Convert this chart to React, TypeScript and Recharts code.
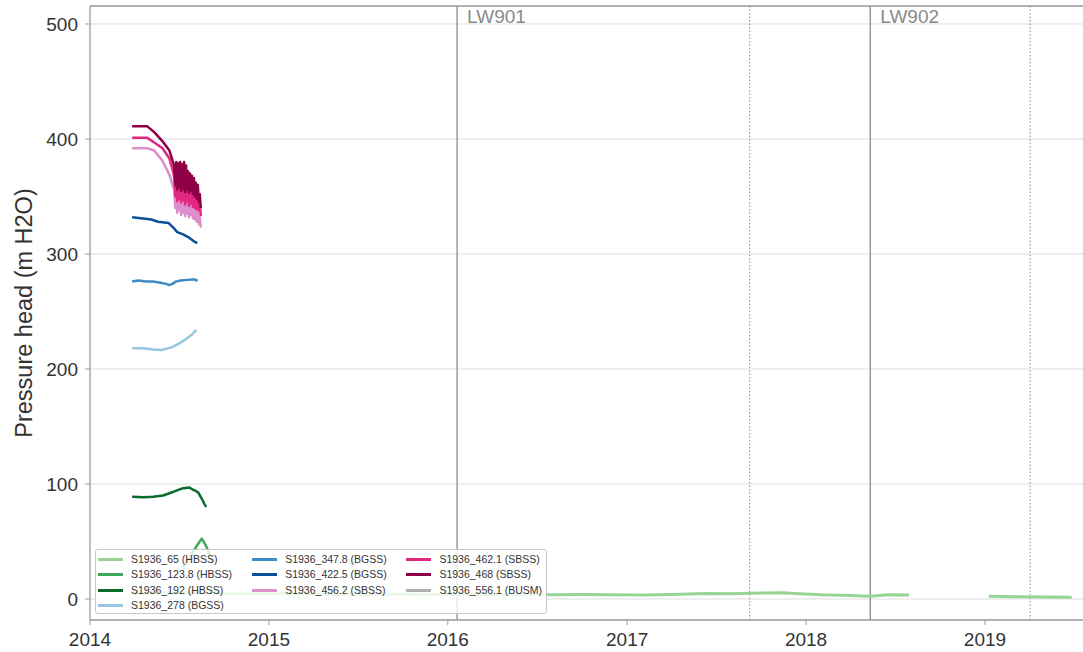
import React from 'react';
import { LineChart, Line, XAxis, YAxis, CartesianGrid, ReferenceLine } from 'recharts';

type Pt = [string, number | null];

// piezometer records (date, pressure head in m H2O)
const s65: Pt[] = [
  ['2014-03-28', 5], ['2014-06-01', 5.5], ['2014-09-01', 5], ['2014-12-01', 4.5], ['2015-03-01', 4.5],
  ['2015-06-01', 4], ['2015-09-01', 4.2], ['2015-12-01', 4], ['2016-03-01', 4], ['2016-06-01', 4],
  ['2016-08-01', 3.8], ['2016-10-01', 3.9], ['2016-12-01', 3.6], ['2017-02-01', 3.5], ['2017-04-01', 4],
  ['2017-06-10', 4.8], ['2017-08-01', 4.6], ['2017-10-01', 5.2], ['2017-11-15', 5.4], ['2017-12-20', 4.5],
  ['2018-02-01', 3.6], ['2018-04-04', 3], ['2018-05-10', 2.3], ['2018-05-25', 2.8], ['2018-06-15', 3.6],
  ['2018-07-30', 3.4], ['2018-10-01', null], ['2019-01-09', 2.3], ['2019-03-01', 2.0], ['2019-05-01', 1.8],
  ['2019-06-27', 1.6],
];
const s123_8: Pt[] = [
  ['2014-07-10', 28], ['2014-07-20', 33], ['2014-07-29', 40], ['2014-08-08', 47], ['2014-08-17', 52.5],
  ['2014-08-22', 49], ['2014-08-27', 45], ['2014-09-02', 38], ['2014-09-08', 32],
];
const s192: Pt[] = [
  ['2014-03-28', 89], ['2014-04-20', 88.5], ['2014-05-10', 89], ['2014-05-30', 90], ['2014-06-12', 92],
  ['2014-06-25', 94], ['2014-07-07', 96], ['2014-07-15', 96.5], ['2014-07-23', 97], ['2014-07-30', 95],
  ['2014-08-05', 94], ['2014-08-10', 92.5], ['2014-08-16', 88], ['2014-08-22', 83], ['2014-08-26', 80],
];
const s278: Pt[] = [
  ['2014-03-28', 218], ['2014-04-20', 218], ['2014-05-10', 217], ['2014-05-27', 216.5], ['2014-06-18', 219],
  ['2014-07-01', 222], ['2014-07-16', 226], ['2014-07-28', 230], ['2014-08-06', 234],
];
const s347_8: Pt[] = [
  ['2014-03-28', 276], ['2014-04-10', 277], ['2014-04-25', 276], ['2014-05-10', 276], ['2014-05-25', 275],
  ['2014-06-05', 274], ['2014-06-12', 273], ['2014-06-18', 274], ['2014-06-25', 276], ['2014-07-05', 277],
  ['2014-07-20', 277.5], ['2014-08-01', 278], ['2014-08-06', 277], ['2014-08-08', 278],
];
const s422_5: Pt[] = [
  ['2014-03-28', 332], ['2014-04-15', 331], ['2014-05-06', 330], ['2014-05-20', 328], ['2014-06-10', 327],
  ['2014-06-20', 323], ['2014-06-28', 319], ['2014-07-10', 317], ['2014-07-23', 314], ['2014-08-01', 311],
  ['2014-08-08', 309.5],
];
const noisyDates = [
  '2014-06-22', '2014-06-24', '2014-06-26', '2014-06-28', '2014-06-30', '2014-07-02', '2014-07-04',
  '2014-07-06', '2014-07-08', '2014-07-10', '2014-07-12', '2014-07-14', '2014-07-16', '2014-07-18',
  '2014-07-20', '2014-07-22', '2014-07-24', '2014-07-26', '2014-07-28', '2014-07-30', '2014-08-01',
  '2014-08-03', '2014-08-05', '2014-08-07', '2014-08-09', '2014-08-11', '2014-08-13', '2014-08-15',
];
const s456_2Head: Pt[] = [['2014-03-28', 392], ['2014-04-28', 392], ['2014-05-12', 390], ['2014-05-29', 381], ['2014-06-12', 369], ['2014-06-20', 358]];
const s456_2Tail = [356, 340, 360, 336, 358, 338, 358, 334, 356, 336, 357, 333, 354, 335, 351, 332, 349, 334, 347, 331, 345, 330, 342, 328, 340, 326, 332, 323];
const s462_1Head: Pt[] = [['2014-03-28', 401], ['2014-04-28', 401], ['2014-05-12', 397], ['2014-05-29', 392], ['2014-06-12', 383], ['2014-06-20', 371]];
const s462_1Tail = [366, 350, 370, 346, 368, 348, 369, 345, 366, 347, 368, 343, 365, 346, 362, 342, 360, 344, 357, 341, 355, 340, 352, 339, 350, 338, 345, 333];
const s468Head: Pt[] = [['2014-03-28', 411], ['2014-04-28', 411], ['2014-05-12', 406], ['2014-05-29', 398], ['2014-06-12', 390], ['2014-06-20', 379]];
const s468Tail = [376, 360, 380, 356, 379, 358, 380, 355, 378, 357, 380, 354, 377, 356, 372, 353, 370, 355, 368, 352, 366, 350, 362, 348, 360, 345, 352, 340];
const s556_1: Pt[] = [];

const withTail = (head: Pt[], tail: number[]): Pt[] => [...head, ...tail.map((v, i) => [noisyDates[i], v] as Pt)];

const SERIES = [
  { name: 'S1936_65 (HBSS)', color: '#97d494', data: s65, width: 3 },
  { name: 'S1936_123.8 (HBSS)', color: '#3da75a', data: s123_8, width: 2.5 },
  { name: 'S1936_192 (HBSS)', color: '#0b6b2e', data: s192, width: 2.5 },
  { name: 'S1936_278 (BGSS)', color: '#96c6e0', data: s278, width: 2.5 },
  { name: 'S1936_347.8 (BGSS)', color: '#3f8cc4', data: s347_8, width: 2.5 },
  { name: 'S1936_422.5 (BGSS)', color: '#0b4f96', data: s422_5, width: 2.5 },
  { name: 'S1936_456.2 (SBSS)', color: '#dc8fca', data: withTail(s456_2Head, s456_2Tail), width: 2.5 },
  { name: 'S1936_462.1 (SBSS)', color: '#e0287f', data: withTail(s462_1Head, s462_1Tail), width: 2.5 },
  { name: 'S1936_468 (SBSS)', color: '#8e0045', data: withTail(s468Head, s468Tail), width: 2.5 },
  { name: 'S1936_556.1 (BUSM)', color: '#b0b0b0', data: s556_1, width: 2.5 },
];

// longwall panels: start (solid line) and end (dotted line)
const panels = [
  { name: 'LW901', start: '2016-01-20', end: '2017-09-08' },
  { name: 'LW902', start: '2018-05-12', end: '2019-04-03' },
];

const yTicks = [0, 100, 200, 300, 400, 500];
const yearTicks = ['2014', '2015', '2016', '2017', '2018', '2019'];

const toT = (d: string) => new Date(d + 'T00:00:00Z').getTime();
const X_MIN = toT('2014-01-01');
const X_MAX = toT('2019-07-20');
const Y_MIN = -18.26;
const Y_MAX = 515.65;

const FONT = '"Liberation Sans", Arial, Helvetica, sans-serif';
const SPINE = '#9c9c9c';
const NCOL = 3;

const App: React.FC = () => {
  const lines = SERIES.map((s) => ({ ...s, points: s.data.map(([d, v]) => ({ t: toT(d), v })) }));

  // legend laid out column by column, the first columns taking the extra entries
  const base = Math.floor(SERIES.length / NCOL);
  const extra = SERIES.length % NCOL;
  const slots: { col: number; row: number }[] = [];
  for (let c = 0; c < NCOL; c++) {
    const n = base + (c < extra ? 1 : 0);
    for (let r = 0; r < n; r++) slots.push({ col: c, row: r });
  }

  return (
    <div style={{ position: 'absolute', left: 0, top: 0, width: 1083, height: 652, background: '#fff', fontFamily: FONT }}>
      <LineChart width={1083} height={652} margin={{ top: 6, right: 0, bottom: 0, left: 0 }}>
        <CartesianGrid vertical={false} stroke="#dedede" strokeWidth={1} />
        <XAxis
          dataKey="t"
          type="number"
          domain={[X_MIN, X_MAX]}
          allowDataOverflow
          ticks={yearTicks.map((y) => toT(y + '-01-01'))}
          tickFormatter={(t: number) => String(new Date(t).getUTCFullYear())}
          height={32}
          tickSize={5}
          tickMargin={8}
          stroke={SPINE}
          axisLine={{ stroke: SPINE, strokeWidth: 1.3 }}
          tickLine={{ stroke: SPINE }}
          tick={{ fill: '#333', fontSize: 19, fontFamily: FONT }}
        />
        <YAxis
          type="number"
          domain={[Y_MIN, Y_MAX]}
          allowDataOverflow
          ticks={yTicks}
          width={90}
          tickSize={5}
          tickMargin={7}
          axisLine={{ stroke: SPINE, strokeWidth: 1.3 }}
          tickLine={{ stroke: SPINE }}
          tick={{ fill: '#333', fontSize: 19, fontFamily: FONT }}
          label={{
            content: () => (
              <text x={24} y={313} transform="rotate(-90 24 313)" textAnchor="middle" dominantBaseline="central"
                fill="#333" fontSize={23.5} fontFamily={FONT}>
                Pressure head (m H2O)
              </text>
            ),
          }}
        />
        <ReferenceLine y={Y_MAX} stroke={SPINE} strokeWidth={1.3} />
        {panels.map((p) => (
          <ReferenceLine
            key={p.name}
            x={toT(p.start)}
            stroke="#8a8a8a"
            strokeWidth={1.3}
            label={{
              content: (props: any) => (
                <text x={props.viewBox.x + 10} y={23} fill="#8a8a8a" fontSize={19} fontFamily={FONT}>
                  {p.name}
                </text>
              ),
            }}
          />
        ))}
        {panels.map((p) => (
          <ReferenceLine key={p.name + '-end'} x={toT(p.end)} stroke="#8a8a8a" strokeWidth={1} strokeDasharray="1.5 2" />
        ))}
        {lines.map((s) => (
          <Line
            key={s.name}
            data={s.points}
            dataKey="v"
            name={s.name}
            type="linear"
            stroke={s.color}
            strokeWidth={s.width}
            dot={false}
            activeDot={false}
            isAnimationActive={false}
            strokeLinejoin="round"
          />
        ))}
      </LineChart>

      <div
        style={{
          position: 'absolute', left: 95, top: 549, width: 450, height: 63,
          background: 'rgba(255,255,255,0.8)', border: '1.5px solid #c8c8c8', borderRadius: 3,
        }}
      />
      {SERIES.map((s, i) => {
        const { col, row } = slots[i];
        const left = 98 + col * 154.2;
        const cy = 559 + row * 15.3;
        return (
          <div key={s.name} style={{ position: 'absolute', left, top: Math.round(cy - 8), height: 16, display: 'flex', alignItems: 'center' }}>
            <div style={{ width: 25, height: 3, background: s.color }} />
            <span style={{ marginLeft: 8, fontSize: 10.5, color: '#333', whiteSpace: 'nowrap' }}>{s.name}</span>
          </div>
        );
      })}
    </div>
  );
};

export default App;
